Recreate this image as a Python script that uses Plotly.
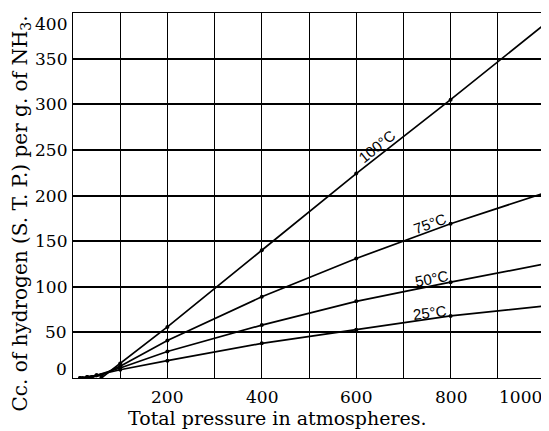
import plotly.graph_objects as go

# Data
p25 = [15, 30, 50, 100, 200, 400, 600, 800, 1000]
v25 = [0, 1, 3, 9, 19, 38, 53, 68, 79]
p50 = [15, 30, 50, 100, 200, 400, 600, 800, 1000]
v50 = [0, 1, 3, 11, 29, 58, 84, 105, 125]
p75 = [20, 40, 60, 100, 200, 400, 600, 800, 1000]
v75 = [0, 1, 3, 13, 41, 89, 131, 169, 203]
p100 = [60, 100, 200, 400, 600, 800, 1000]
v100 = [0, 16, 56, 140, 224, 305, 388]

series_names = ["25°C", "50°C", "75°C", "100°C"]
label_pos_x = [756, 760, 756, 643]
label_pos_y = [71.6, 109, 169.7, 253.7]
label_angle = [-7, -11, -20, -39]

x_tick_vals = [200, 400, 600, 800, 1000]
x_tick_text = ["200", "400", "600", "800", "1000"]
y_tick_vals = [0, 50, 100, 150, 200, 250, 300, 350, 400]
y_tick_text = ["0", "50", "100", "150", "200", "250", "300", "350", "400"]

x_title = "Total pressure in atmospheres."
y_title = "Cc. of hydrogen (S. T. P.) per g. of NH<sub>3</sub>."

# page body has an 8px margin; figure is sized to fill the rest of the window
W, H = 541, 423
ML, MR, MT, MB = 65, 4, 5, 53
PW = W - ML - MR
PH = H - MT - MB

fig = go.Figure()
for px, vy in [(p25, v25), (p50, v50), (p75, v75), (p100, v100)]:
    fig.add_trace(go.Scatter(
        x=px, y=vy, mode="lines+markers",
        line=dict(color="black", width=1.7),
        marker=dict(color="black", size=4),
        showlegend=False, cliponaxis=True,
    ))

annotations = []
for name, ax_, ay_, ang in zip(series_names, label_pos_x, label_pos_y, label_angle):
    annotations.append(dict(
        x=ax_, y=ay_, xref="x", yref="y", text=name, showarrow=False,
        textangle=ang, font=dict(family="Liberation Sans, Arial, sans-serif", size=15, color="black"),
    ))

tick_font = dict(family="DejaVu Serif, serif", size=17, color="black")
for v, t in zip(x_tick_vals, x_tick_text):
    annotations.append(dict(
        x=v, y=0, xref="x", yref="paper", text=t, showarrow=False,
        xanchor="right" if v == 1000 else "center", yanchor="middle",
        xshift=-1 if v == 1000 else 0, yshift=-19, font=tick_font,
    ))
for v, t in zip(y_tick_vals, y_tick_text):
    ys = 0
    if v == 0:
        ys = 9
    elif v == 400:
        ys = -10.5
    annotations.append(dict(
        x=0, y=v, xref="paper", yref="y", text=t, showarrow=False,
        xanchor="right", yanchor="middle", xshift=-4, yshift=ys, font=tick_font,
    ))

# positions in page pixels converted to paper coordinates
xt_px, xt_py = 277.5 - 8, 418 - 8
yt_px, yt_py = 20 - 8, 213.5 - 8
annotations.append(dict(
    x=(xt_px - ML) / PW, y=(MT + PH - xt_py) / PH, xref="paper", yref="paper",
    text=x_title, showarrow=False, xanchor="center", yanchor="middle",
    font=dict(family="DejaVu Serif, serif", size=19, color="black"),
))
annotations.append(dict(
    x=(yt_px - ML) / PW, y=(MT + PH - yt_py) / PH, xref="paper", yref="paper",
    text=y_title, showarrow=False, xanchor="center", yanchor="middle",
    textangle=-90, font=dict(family="DejaVu Serif, serif", size=20, color="black"),
))

fig.update_layout(
    width=W, height=H,
    margin=dict(l=ML, r=MR, t=MT, b=MB),
    paper_bgcolor="white", plot_bgcolor="white",
    annotations=annotations,
    xaxis=dict(range=[0, 1000], tick0=0, dtick=100, showgrid=True,
               gridcolor="black", gridwidth=1.1, showticklabels=False,
               showline=True, linecolor="black", linewidth=1.4, mirror=True,
               zeroline=False, ticks=""),
    yaxis=dict(range=[0, 400], tick0=0, dtick=50, showgrid=True,
               gridcolor="black", gridwidth=1.5, showticklabels=False,
               showline=True, linecolor="black", linewidth=1.4, mirror=True,
               zeroline=False, ticks=""),
)

fig.write_html("out.html")
